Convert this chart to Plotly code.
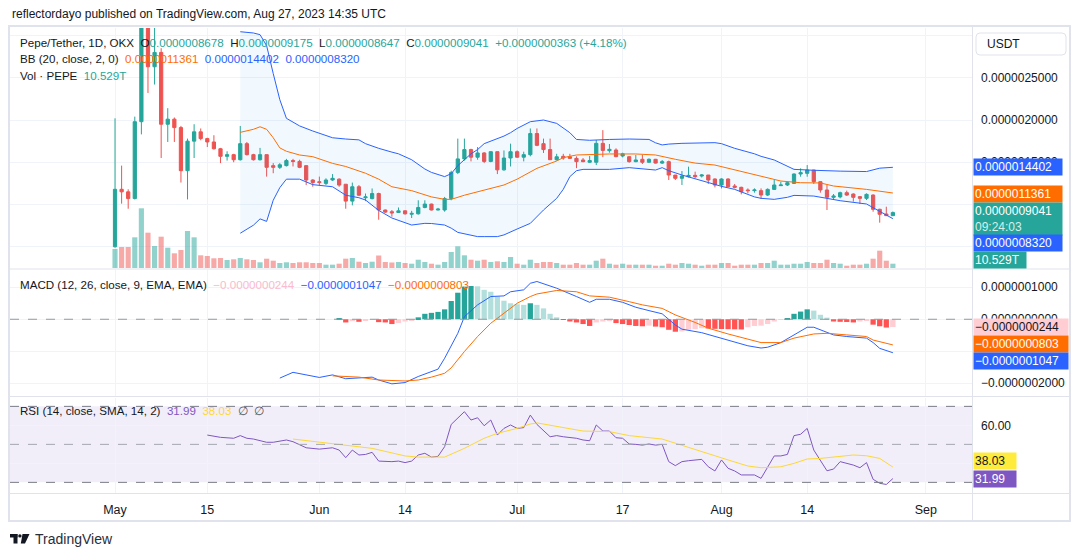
import numpy as np
import pandas as pd
import plotly.graph_objects as go

# ---------------- data (prices in 1e-6 USDT, volume in T, MACD in 1e-7) -------------
START = "2023-05-01"

open_u = [0.50, 1.18, 1.15, 1.07, 1.98, 3.50, 2.63, 2.80, 1.95, 2.01,
          1.91, 1.40, 1.75, 1.86, 1.78, 1.74, 1.66, 1.57, 1.59, 1.53,
          1.72, 1.59, 1.53, 1.59, 1.46, 1.44, 1.46, 1.52, 1.51, 1.46,
          1.29, 1.27, 1.25, 1.29, 1.30, 1.24, 1.04, 1.21, 1.08, 1.07,
          1.13, 0.935, 0.915, 0.905, 0.925, 0.885, 0.89, 0.965, 1.005, 0.935,
          0.935, 1.07, 1.38, 1.54, 1.65, 1.56, 1.61, 1.51, 1.625, 1.41,
          1.55, 1.625, 1.56, 1.59, 1.84, 1.72, 1.65, 1.53, 1.57, 1.565,
          1.546, 1.527, 1.50, 1.50, 1.724, 1.637, 1.645, 1.574, 1.566, 1.507,
          1.535, 1.50, 1.535, 1.49, 1.507, 1.349, 1.31, 1.33, 1.345, 1.337,
          1.349, 1.302, 1.231, 1.302, 1.219, 1.203, 1.172, 1.164, 1.164, 1.112,
          1.179, 1.223, 1.231, 1.25, 1.361, 1.369, 1.408, 1.27, 1.172, 1.085,
          1.09, 1.14, 1.124, 1.093, 1.073, 1.112, 0.943, 0.888, 0.8678]
high_u = [2.02, 1.46, 1.18, 2.04, 3.90, 4.30, 3.20, 2.85, 2.14, 2.03,
          1.93, 1.78, 1.95, 1.90, 1.79, 1.82, 1.67, 1.63, 1.60, 1.93,
          1.74, 1.60, 1.67, 1.59, 1.49, 1.49, 1.54, 1.54, 1.53, 1.46,
          1.30, 1.33, 1.31, 1.36, 1.31, 1.24, 1.26, 1.23, 1.13, 1.19,
          1.14, 0.94, 0.935, 0.965, 0.93, 0.925, 1.05, 1.05, 1.01, 0.96,
          1.09, 1.40, 1.78, 1.78, 1.66, 1.68, 1.62, 1.63, 1.63, 1.64,
          1.72, 1.64, 1.625, 1.90, 1.90, 1.78, 1.78, 1.60, 1.60, 1.60,
          1.57, 1.55, 1.574, 1.763, 1.88, 1.716, 1.665, 1.613, 1.57, 1.586,
          1.586, 1.546, 1.54, 1.527, 1.52, 1.35, 1.396, 1.448, 1.389, 1.36,
          1.35, 1.31, 1.31, 1.31, 1.243, 1.211, 1.191, 1.191, 1.191, 1.191,
          1.29, 1.27, 1.27, 1.369, 1.428, 1.467, 1.41, 1.275, 1.231, 1.124,
          1.152, 1.164, 1.132, 1.101, 1.132, 1.12, 0.95, 0.974, 0.9175]
low_u = [0.49, 1.01, 0.95, 1.06, 1.83, 2.32, 2.42, 1.55, 1.74, 1.74,
         1.26, 1.06, 1.55, 1.76, 1.68, 1.65, 1.49, 1.52, 1.50, 1.52,
         1.58, 1.52, 1.52, 1.33, 1.37, 1.42, 1.45, 1.45, 1.43, 1.23,
         1.21, 1.23, 1.23, 1.28, 1.21, 0.95, 0.99, 1.10, 1.04, 1.06,
         0.82, 0.90, 0.856, 0.90, 0.88, 0.84, 0.88, 0.955, 0.93, 0.93,
         0.915, 1.05, 1.36, 1.52, 1.51, 1.53, 1.49, 1.50, 1.36, 1.40,
         1.45, 1.55, 1.51, 1.57, 1.69, 1.61, 1.53, 1.52, 1.53, 1.54,
         1.43, 1.50, 1.49, 1.467, 1.56, 1.613, 1.56, 1.558, 1.495, 1.50,
         1.479, 1.495, 1.485, 1.479, 1.29, 1.29, 1.231, 1.32, 1.31, 1.32,
         1.243, 1.203, 1.19, 1.21, 1.191, 1.12, 1.132, 1.14, 1.065, 1.10,
         1.172, 1.219, 1.219, 1.243, 1.329, 1.329, 1.243, 1.14, 0.935, 1.053,
         1.073, 1.101, 1.034, 1.006, 1.053, 0.915, 0.785, 0.864, 0.8647]
close_u = [1.18, 1.15, 1.07, 1.98, 3.50, 2.63, 2.80, 1.95, 2.01, 1.91,
           1.40, 1.75, 1.86, 1.78, 1.74, 1.66, 1.57, 1.59, 1.53, 1.72,
           1.59, 1.53, 1.59, 1.44, 1.44, 1.47, 1.52, 1.51, 1.44, 1.29,
           1.26, 1.26, 1.29, 1.31, 1.23, 1.04, 1.21, 1.11, 1.09, 1.13,
           0.935, 0.91, 0.90, 0.925, 0.89, 0.895, 0.965, 1.005, 0.935, 0.945,
           1.07, 1.38, 1.54, 1.65, 1.56, 1.61, 1.51, 1.625, 1.41, 1.55,
           1.625, 1.56, 1.59, 1.84, 1.70, 1.65, 1.53, 1.565, 1.55, 1.546,
           1.507, 1.507, 1.52, 1.724, 1.64, 1.653, 1.566, 1.60, 1.507, 1.527,
           1.50, 1.535, 1.49, 1.507, 1.349, 1.31, 1.337, 1.345, 1.33, 1.349,
           1.29, 1.231, 1.302, 1.211, 1.203, 1.152, 1.164, 1.172, 1.112, 1.179,
           1.231, 1.231, 1.258, 1.361, 1.377, 1.408, 1.27, 1.172, 1.085, 1.101,
           1.14, 1.112, 1.085, 1.073, 1.12, 0.943, 0.884, 0.8678, 0.9041]
volume_t = [46.6, 51.5, 51.5, 75.2, 146.3, 86.5, 53.9, 76.7, 49.7, 36.0,
            44.1, 90.7, 75.2, 31.1, 29.4, 23.8, 24.5, 19.6, 21.3, 24.5,
            21.3, 19.6, 14.0, 22.8, 17.9, 12.3, 14.0, 12.3, 14.0, 14.0,
            12.3, 12.3, 8.1, 8.1, 10.5, 22.8, 24.5, 15.4, 12.3, 15.4,
            30.6, 14.7, 13.5, 14.7, 12.3, 10.5, 20.3, 14.7, 10.5, 8.1,
            14.7, 39.2, 53.2, 31.1, 20.3, 17.9, 20.3, 14.7, 16.4, 14.7,
            27.0, 10.5, 8.1, 20.3, 12.3, 14.7, 14.7, 12.3, 8.1, 8.1,
            12.3, 8.1, 8.1, 17.9, 22.8, 10.5, 8.1, 10.5, 8.1, 8.1,
            8.1, 8.1, 5.6, 5.6, 10.5, 8.1, 12.3, 10.5, 8.1, 5.6,
            8.1, 8.1, 12.3, 12.3, 5.6, 8.1, 8.1, 8.1, 12.3, 12.3,
            17.9, 8.1, 8.1, 10.5, 10.5, 14.7, 12.3, 12.3, 20.3, 12.3,
            10.5, 5.6, 8.1, 8.1, 10.5, 22.8, 42.4, 17.9, 10.529]

# Bollinger Bands (20, 2), day index from START
bb_band_idx = [19, 21, 22, 23, 24, 25, 26, 28, 30, 33, 35, 37, 38, 40, 42, 43, 45, 47, 48, 50,
               51, 52, 54, 55, 56, 58, 59, 60, 61, 63, 65, 67, 68, 69, 70, 71, 72, 75, 78, 81,
               82, 83, 84, 86, 89, 91, 92, 94, 97, 98, 100, 102, 103, 106, 109, 110, 114, 116, 118]
bb_upper_u = [3.045, 3.03, 3.01, 2.88, 2.55, 2.24, 2.02, 1.93, 1.87, 1.79, 1.775, 1.765, 1.72, 1.665,
              1.62, 1.60, 1.53, 1.42, 1.38, 1.33, 1.365, 1.46, 1.60, 1.65, 1.72, 1.78, 1.81, 1.85,
              1.90, 1.98, 2.00, 1.96, 1.91, 1.85, 1.77, 1.765, 1.76, 1.77, 1.775, 1.77, 1.73, 1.705,
              1.715, 1.724, 1.728, 1.732, 1.72, 1.665, 1.60, 1.57, 1.527, 1.45, 1.416, 1.405, 1.396,
              1.395, 1.39, 1.43, 1.4402]
bb_lower_u = [0.66, 0.755, 0.83, 0.80, 1.05, 1.20, 1.30, 1.30, 1.235, 1.21, 1.11, 1.08, 1.053, 0.93,
              0.84, 0.81, 0.757, 0.777, 0.775, 0.757, 0.72, 0.67, 0.635, 0.62, 0.62, 0.62, 0.64, 0.678,
              0.71, 0.777, 0.935, 1.073, 1.18, 1.33, 1.40, 1.416, 1.416, 1.416, 1.436, 1.42, 1.408,
              1.436, 1.40, 1.349, 1.28, 1.231, 1.215, 1.179, 1.09, 1.073, 1.061, 1.085, 1.108, 1.10,
              1.053, 1.045, 1.006, 0.915, 0.832]
bb_basis_idx = [19, 21, 22, 23, 24, 25, 26, 28, 30, 33, 35, 37, 38, 40, 42, 45, 48, 50, 51, 53, 56,
                59, 61, 64, 67, 68, 70, 73, 75, 79, 82, 85, 88, 91, 94, 98, 101, 104, 107, 109, 114, 118]
bb_basis_u = [1.854, 1.89, 1.92, 1.89, 1.79, 1.67, 1.63, 1.586, 1.566, 1.487, 1.45, 1.40, 1.37, 1.30,
              1.21, 1.164, 1.09, 1.061, 1.061, 1.11, 1.172, 1.231, 1.30, 1.428, 1.515, 1.555, 1.586,
              1.594, 1.598, 1.598, 1.586, 1.535, 1.49, 1.467, 1.408, 1.337, 1.278, 1.258, 1.255,
              1.219, 1.179, 1.1361]

# MACD (12, 26, 9) in units of 1e-7
macd_idx = [25, 27, 31, 33, 35, 37, 39, 40, 42, 44, 46, 49, 50, 52, 53, 55, 57, 59, 60, 62, 63, 64,
            67, 70, 72, 73, 75, 77, 79, 81, 83, 85, 86, 89, 91, 94, 96, 98, 99, 101, 103, 105, 106,
            108, 109, 111, 114, 115, 116, 118]
macd_e7 = [-1.84, -1.66, -1.82, -1.74, -1.86, -1.84, -1.81, -1.90, -2.02, -1.98, -1.79, -1.56, -1.22,
           -0.44, 0.08, 0.45, 0.71, 0.73, 0.86, 0.92, 1.125, 1.18, 0.97, 0.71, 0.53, 0.625, 0.625,
           0.53, 0.375, 0.27, 0.17, -0.18, -0.31, -0.42, -0.54, -0.70, -0.83, -0.90, -0.875, -0.73,
           -0.49, -0.25, -0.25, -0.41, -0.49, -0.54, -0.59, -0.73, -0.91, -1.047]
signal_idx = [33, 37, 40, 44, 46, 48, 50, 51, 53, 55, 57, 59, 61, 63, 64, 67, 70, 72, 75, 78, 80,
              83, 85, 88, 90, 93, 96, 98, 101, 103, 106, 108, 111, 114, 115, 118]
signal_e7 = [-1.77, -1.81, -1.90, -1.93, -1.90, -1.81, -1.69, -1.52, -1.01, -0.54, -0.125, 0.19, 0.50,
             0.71, 0.79, 0.90, 0.86, 0.73, 0.69, 0.55, 0.45, 0.34, 0.135, -0.10, -0.28, -0.46, -0.625,
             -0.73, -0.73, -0.59, -0.46, -0.44, -0.49, -0.54, -0.65, -0.803]
hist_start = 34
hist_e7 = [0.02, -0.10, -0.06, -0.08, -0.05, -0.02, -0.09, -0.10, -0.15, -0.12,
           -0.07, -0.05, 0.06, 0.17, 0.20, 0.23, 0.31, 0.57, 0.83, 1.02,
           1.04, 1.03, 0.92, 0.86, 0.71, 0.58, 0.50, 0.47, 0.45, 0.50,
           0.45, 0.34, 0.17, 0.06, -0.01, -0.07, -0.10, -0.15, -0.21, -0.10,
           -0.07, -0.06, -0.12, -0.15, -0.18, -0.21, -0.22, -0.20, -0.23, -0.25,
           -0.33, -0.39, -0.38, -0.33, -0.31, -0.28, -0.29, -0.30, -0.305, -0.31,
           -0.315, -0.32, -0.25, -0.21, -0.20, -0.15, -0.07, -0.02, 0.04, 0.17,
           0.24, 0.31, 0.27, 0.14, 0.05, -0.07, -0.08, -0.085, -0.10, -0.07,
           -0.03, -0.17, -0.22, -0.26, -0.244]

# RSI (14) and its SMA (14)
rsi_idx = [14, 16, 18, 19, 20, 21, 23, 24, 26, 27, 29, 31, 33, 34, 35, 36, 37, 38, 39, 40, 42, 43,
           44, 45, 46, 47, 48, 49, 50, 51, 53, 54, 55, 56, 57, 58, 59, 60, 61, 62, 63, 64, 66, 67,
           68, 70, 71, 72, 73, 74, 75, 76, 77, 78, 79, 80, 81, 82, 83, 84, 85, 86, 87, 89, 90, 91,
           92, 93, 94, 95, 97, 98, 100, 101, 102, 103, 104, 105, 106, 107, 108, 109, 110, 112, 113,
           114, 115, 116, 117, 118]
rsi_val = [54.9, 53.7, 53.2, 54.6, 53.2, 52.8, 51.1, 51.1, 52.3, 51.4, 48.2, 47.5, 48.2, 47.0, 43.0,
           47.0, 44.4, 44.7, 45.8, 41.2, 40.9, 41.2, 40.4, 41.2, 44.4, 45.3, 43.3, 43.7, 48.8, 60.5,
           67.2, 62.8, 64.0, 59.8, 62.8, 54.9, 58.4, 60.2, 58.4, 58.8, 65.4, 60.5, 54.0, 54.6, 54.0,
           53.2, 52.3, 51.9, 60.2, 57.0, 57.0, 53.5, 53.2, 50.2, 50.0, 49.6, 50.2, 49.6, 50.0, 40.9,
           38.8, 40.9, 41.4, 42.1, 38.2, 36.0, 41.8, 37.4, 36.0, 33.9, 33.9, 32.1, 43.9, 43.9, 44.7,
           54.6, 55.3, 58.4, 47.0, 41.8, 36.1, 37.0, 40.9, 39.1, 37.7, 40.4, 31.6, 29.5, 28.9, 31.99]
rsima_idx = [27, 35, 39, 44, 46, 50, 53, 56, 58, 61, 63, 64, 67, 71, 75, 78, 83, 85, 88, 91, 93, 96,
             98, 101, 103, 105, 107, 110, 112, 114, 116, 118]
rsima_val = [52.8, 49.6, 47.9, 43.9, 43.3, 43.3, 47.9, 53.2, 55.8, 58.4, 60.7, 61.3, 59.3, 57.0, 56.7,
             54.6, 52.8, 50.5, 47.4, 44.0, 41.8, 38.6, 37.7, 38.2, 40.0, 42.3, 42.6, 43.5, 44.4, 44.0,
             42.6, 38.03]

tick_dates = ["2023-05-01", "2023-05-15", "2023-06-01", "2023-06-14", "2023-07-01",
              "2023-07-17", "2023-08-01", "2023-08-14", "2023-09-01"]
tick_text = ["May", "15", "Jun", "14", "Jul", "17", "Aug", "14", "Sep"]
price_ticks_u = [0.5, 1.0, 1.5, 2.0, 2.5, 3.0]
price_labelled_u = [1.5, 2.0, 2.5]          # the others sit under the price tags / USDT box
macd_ticks_e7 = [1, 0, -1, -2]
macd_labelled_e7 = [1, 0, -2]
rsi_ticks = [40, 60]
rsi_labelled = [60]

# ---------------- derived -------------
U, E7 = 1e-6, 1e-7
base = pd.Timestamp(START)
dates = pd.date_range(START, periods=len(close_u), freq="D")
def at(idx):
    return [base + pd.Timedelta(days=i) for i in idx]

o, h, l, c = (np.array(a) * U for a in (open_u, high_u, low_u, close_u))

GREEN, RED = "#26a69a", "#ef5350"
BLUE, ORANGE = "#2962ff", "#ff6d00"
PURPLE, YELLOW = "#7e57c2", "#fdd835"
TXT = "#131722"
GRID = "#f0f3fa"
FRAME = "#e0e3eb"
FONT = "Liberation Sans"

def fmt(v, nd=10):
    s = f"{v:.{nd}f}"
    return s.replace("-", "\u2212")

fig = go.Figure()

# volume (base axis of price pane)
vol_colors = ["rgba(38,166,154,0.5)" if cc >= oo else "rgba(239,83,80,0.5)"
              for oo, cc in zip(open_u, close_u)]
fig.add_trace(go.Bar(x=dates, y=volume_t, marker=dict(color=vol_colors, line_width=0),
                     width=0.78 * 86400000, xaxis="x", yaxis="y", hoverinfo="skip"))

# Bollinger bands
bx = at(bb_band_idx)
fig.add_trace(go.Scatter(x=bx, y=np.array(bb_upper_u) * U, mode="lines",
                         line=dict(color=BLUE, width=1), xaxis="x", yaxis="y4", hoverinfo="skip"))
fig.add_trace(go.Scatter(x=bx, y=np.array(bb_lower_u) * U, mode="lines",
                         line=dict(color=BLUE, width=1), fill="tonexty",
                         fillcolor="rgba(33,150,243,0.06)", xaxis="x", yaxis="y4", hoverinfo="skip"))
fig.add_trace(go.Scatter(x=at(bb_basis_idx), y=np.array(bb_basis_u) * U, mode="lines",
                         line=dict(color=ORANGE, width=1), xaxis="x", yaxis="y4", hoverinfo="skip"))

# candles
fig.add_trace(go.Candlestick(x=dates, open=o, high=h, low=l, close=c,
                             increasing=dict(line=dict(color=GREEN, width=1), fillcolor=GREEN),
                             decreasing=dict(line=dict(color=RED, width=1), fillcolor=RED),
                             whiskerwidth=0, xaxis="x", yaxis="y4", hoverinfo="skip"))

# MACD histogram
hcol = []
prev = None
for v in hist_e7:
    rising = prev is None or v > prev
    if v >= 0:
        hcol.append("#26a69a" if rising else "#b2dfdb")
    else:
        hcol.append("#ffcdd2" if rising else "#ff5252")
    prev = v
fig.add_trace(go.Bar(x=at(range(hist_start, hist_start + len(hist_e7))),
                     y=np.array(hist_e7) * E7, marker=dict(color=hcol, line_width=0),
                     width=0.8 * 86400000, xaxis="x2", yaxis="y2", hoverinfo="skip"))
fig.add_trace(go.Scatter(x=at(macd_idx), y=np.array(macd_e7) * E7, mode="lines",
                         line=dict(color=BLUE, width=1), xaxis="x2", yaxis="y2", hoverinfo="skip"))
fig.add_trace(go.Scatter(x=at(signal_idx), y=np.array(signal_e7) * E7, mode="lines",
                         line=dict(color=ORANGE, width=1), xaxis="x2", yaxis="y2", hoverinfo="skip"))

# RSI
fig.add_trace(go.Scatter(x=at(rsi_idx), y=rsi_val, mode="lines",
                         line=dict(color=PURPLE, width=1), xaxis="x3", yaxis="y3", hoverinfo="skip"))
fig.add_trace(go.Scatter(x=at(rsima_idx), y=rsima_val, mode="lines",
                         line=dict(color=YELLOW, width=1), xaxis="x3", yaxis="y3", hoverinfo="skip"))

# ---------------- layout -------------
W, H = 1080, 557
ML, MR, MT, MB = 10, 108, 28, 64
PW, PH = W - ML - MR, H - MT - MB   # 962 x 465
def PX(px): return (px - ML) / PW
def PY(py): return (H - MB - py) / PH

xr = [pd.Timestamp("2023-04-15 01:40"), pd.Timestamp("2023-09-08 00:00")]
xcommon = dict(range=xr, showgrid=True, gridcolor=GRID, gridwidth=1, tickvals=tick_dates,
               ticktext=tick_text, zeroline=False, showline=False, ticks="", type="date")

def labels(vals, shown, f):
    return [f(v) if v in shown else "" for v in vals]

fig.update_layout(
    width=W, height=H, margin=dict(l=ML, r=MR, t=MT, b=MB, autoexpand=False),
    paper_bgcolor="white", plot_bgcolor="white", showlegend=False,
    font=dict(family=FONT, color=TXT, size=12),
    xaxis=dict(**xcommon, anchor="y", domain=[0, 1], showticklabels=False,
               rangeslider=dict(visible=False)),
    xaxis2=dict(**xcommon, anchor="y2", domain=[0, 1], showticklabels=False, matches="x"),
    xaxis3=dict(**xcommon, anchor="y3", domain=[0, 1], showticklabels=True, matches="x",
                tickfont=dict(size=12.5, color=TXT), ticklabelstandoff=7),
    yaxis=dict(domain=[PY(268), PY(28)], range=[0, 588], visible=False, fixedrange=True),
    yaxis4=dict(overlaying="y", anchor="x", side="right", range=[0.2485 * U, 3.089 * U],
                tickvals=[v * U for v in price_ticks_u],
                ticktext=labels(price_ticks_u, price_labelled_u, lambda v: fmt(v * U)),
                showgrid=True, gridcolor=GRID, zeroline=False, ticks="",
                tickfont=dict(size=12, color=TXT), ticklabelstandoff=8, showline=False),
    yaxis2=dict(domain=[PY(396), PY(270)], anchor="x2", side="right",
                range=[-2.40 * E7, 1.54 * E7],
                tickvals=[v * E7 for v in macd_ticks_e7],
                ticktext=labels(macd_ticks_e7, macd_labelled_e7, lambda v: fmt(v * E7)),
                showgrid=True, gridcolor=GRID, zeroline=False, ticks="",
                tickfont=dict(size=12, color=TXT), ticklabelstandoff=8),
    yaxis3=dict(domain=[0, PY(398)], anchor="x3", side="right", range=[24.4, 74.4],
                tickvals=rsi_ticks, ticktext=labels(rsi_ticks, rsi_labelled, lambda v: f"{v:.2f}"),
                showgrid=True, gridcolor=GRID, zeroline=False, ticks="",
                tickfont=dict(size=12, color=TXT), ticklabelstandoff=8),
)

shapes = []
# RSI band and levels
shapes.append(dict(type="rect", xref="x3 domain", yref="y3", x0=0, x1=1, y0=30, y1=70,
                   fillcolor="rgba(126,87,194,0.1)", line_width=0, layer="below"))
for lvl, col in [(70, "#787b86"), (50, "#a3a6af"), (30, "#787b86")]:
    shapes.append(dict(type="line", xref="x3 domain", yref="y3", x0=0, x1=1, y0=lvl, y1=lvl,
                       line=dict(color=col, width=1, dash="dash")))
# MACD zero line
shapes.append(dict(type="line", xref="x2 domain", yref="y2", x0=0, x1=1, y0=0, y1=0,
                   line=dict(color="#9598a1", width=1, dash="dash")))
# frame & separators
shapes.append(dict(type="rect", xref="paper", yref="paper", x0=PX(9), x1=PX(1070),
                   y0=PY(521), y1=PY(26), line=dict(color=FRAME, width=2)))
shapes.append(dict(type="line", xref="paper", yref="paper", x0=PX(972.5), x1=PX(972.5),
                   y0=PY(521), y1=PY(26), line=dict(color=FRAME, width=1)))
for yy in (269, 396.5, 493.5):
    shapes.append(dict(type="line", xref="paper", yref="paper", x0=PX(9), x1=PX(1070),
                       y0=PY(yy), y1=PY(yy), line=dict(color=FRAME, width=1)))
# USDT box (rounded)
bx0, bx1, by0, by1, r = 976, 1066, 33, 55, 4
path = (f"M {PX(bx0 + r)},{PY(by0)} L {PX(bx1 - r)},{PY(by0)} Q {PX(bx1)},{PY(by0)} {PX(bx1)},{PY(by0 + r)} "
        f"L {PX(bx1)},{PY(by1 - r)} Q {PX(bx1)},{PY(by1)} {PX(bx1 - r)},{PY(by1)} "
        f"L {PX(bx0 + r)},{PY(by1)} Q {PX(bx0)},{PY(by1)} {PX(bx0)},{PY(by1 - r)} "
        f"L {PX(bx0)},{PY(by0 + r)} Q {PX(bx0)},{PY(by0)} {PX(bx0 + r)},{PY(by0)} Z")
shapes.append(dict(type="path", xref="paper", yref="paper", path=path,
                   line=dict(color=FRAME, width=1), fillcolor="white"))
# TradingView logo
shapes.append(dict(type="rect", xref="paper", yref="paper", x0=PX(10), x1=PX(17.5),
                   y0=PY(537.5), y1=PY(534), line_width=0, fillcolor=TXT))
shapes.append(dict(type="rect", xref="paper", yref="paper", x0=PX(13.5), x1=PX(17.5),
                   y0=PY(543.5), y1=PY(534), line_width=0, fillcolor=TXT))
shapes.append(dict(type="circle", xref="paper", yref="paper", x0=PX(18.2), x1=PX(21.6),
                   y0=PY(537.6), y1=PY(534.2), line_width=0, fillcolor=TXT))
shapes.append(dict(type="path", xref="paper", yref="paper",
                   path=f"M {PX(22.5)},{PY(534)} L {PX(29.5)},{PY(534)} L {PX(25)},{PY(543.5)} "
                        f"L {PX(20.8)},{PY(543.5)} Z", line_width=0, fillcolor=TXT))
fig.update_layout(shapes=shapes)

ann = []
def text(px, py, s, size=12, color=TXT, anchor="left"):
    ann.append(dict(x=PX(px), y=PY(py), xref="paper", yref="paper", text=s, showarrow=False,
                    xanchor=anchor, yanchor="middle", font=dict(size=size, color=color, family=FONT)))

def tag(py, s, bg, fg="white", width=86, x0=973, size=12):
    ann.append(dict(x=PX(x0), y=PY(py), xref="paper", yref="paper", text=s, showarrow=False,
                    xanchor="left", yanchor="middle", bgcolor=bg, width=width, align="left",
                    borderpad=1, font=dict(size=size, color=fg, family=FONT)))

def sp(s, col):
    return f"<span style='color:{col}'>{s}</span>"

NB = "\u00a0"
LS = 11.6
chg = close_u[-1] - close_u[-2]
pct = chg / close_u[-2] * 100
text(10, 14, "reflectordayo published on TradingView.com, Aug 27, 2023 14:35 UTC", size=12)
text(18, 42, "Pepe/Tether, 1D, OKX" + NB * 2 +
     "O" + sp(fmt(open_u[-1] * U), GREEN) + NB * 2 +
     "H" + sp(fmt(high_u[-1] * U), GREEN) + NB * 2 +
     "L" + sp(fmt(low_u[-1] * U), GREEN) + NB * 2 +
     "C" + sp(fmt(close_u[-1] * U), GREEN) + NB * 2 +
     sp(f"+{fmt(chg * U)} (+{pct:.2f}%)", GREEN), size=LS)
text(18, 59, "BB (20, close, 2, 0)" + NB * 2 + sp(fmt(bb_basis_u[-1] * U), ORANGE) + NB * 2 +
     sp(fmt(bb_upper_u[-1] * U), BLUE) + NB * 2 + sp(fmt(bb_lower_u[-1] * U), BLUE), size=LS)
text(18, 75, "Vol · PEPE" + NB * 2 + sp(f"{volume_t[-1]:.3f}T", GREEN), size=LS)
text(18, 284, "MACD (12, 26, close, 9, EMA, EMA)" + NB * 2 + sp(fmt(hist_e7[-1] * E7), "#f8bbd0") +
     NB * 2 + sp(fmt(macd_e7[-1] * E7), BLUE) + NB * 2 + sp(fmt(signal_e7[-1] * E7), ORANGE),
     size=LS)
text(18, 410, "RSI (14, close, SMA, 14, 2)" + NB * 2 + sp(f"{rsi_val[-1]:.2f}", PURPLE) + NB * 2 +
     sp(f"{rsima_val[-1]:.2f}", YELLOW) + NB * 2 + sp("\u2205" + NB * 2 + "\u2205", "#555"),
     size=LS)
text(985, 44, "USDT", size=12)
text(33, 539, "TradingView", size=14, color="#2a2e39")

# price axis tags
tag(167, fmt(bb_upper_u[-1] * U), BLUE)
tag(193.5, fmt(bb_basis_u[-1] * U), ORANGE)
tag(218.5, fmt(close_u[-1] * U) + "<br>" + sp("09:24:03", "#d4efec"), GREEN)
tag(242.5, fmt(bb_lower_u[-1] * U), BLUE)
tag(259.5, f"{volume_t[-1]:.3f}T", GREEN, width=50)
# MACD tags
tag(327, fmt(hist_e7[-1] * E7), "#ffcdd2", fg=TXT, width=92)
tag(344, fmt(signal_e7[-1] * E7), ORANGE, width=92)
tag(361, fmt(macd_e7[-1] * E7), BLUE, width=92)
# RSI tags
tag(461, f"{rsima_val[-1]:.2f}", "#ffeb3b", fg=TXT, width=40)
tag(478.5, f"{rsi_val[-1]:.2f}", PURPLE, width=40)

fig.update_layout(annotations=ann)
fig.write_html("out.html")
